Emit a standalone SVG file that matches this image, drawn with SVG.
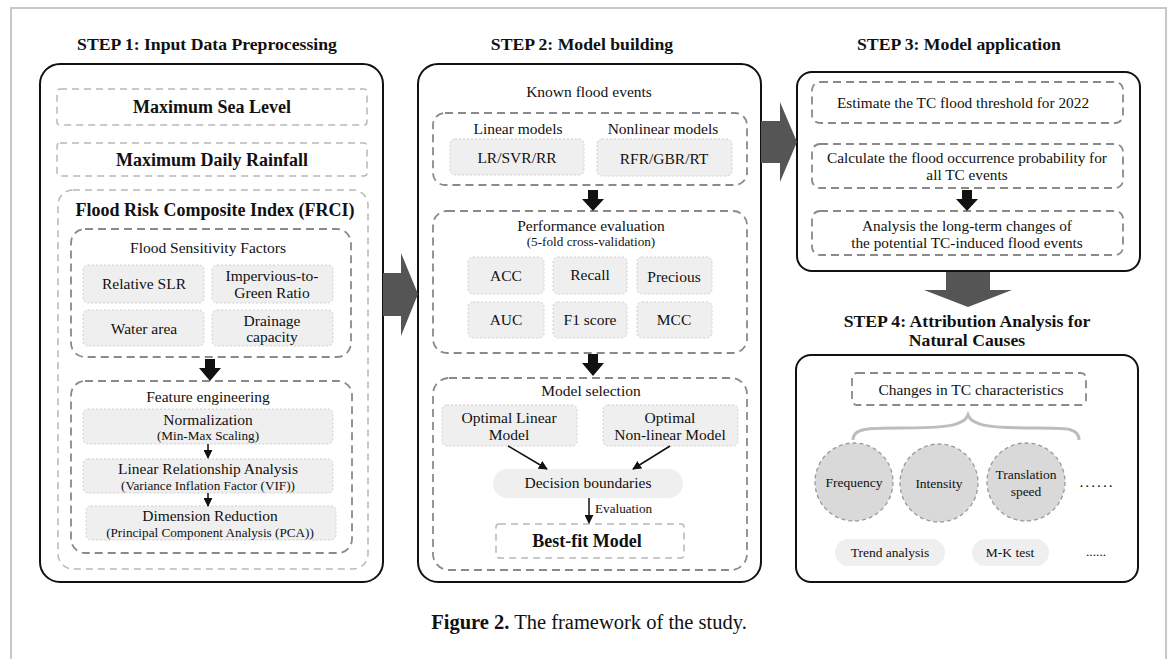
<svg xmlns="http://www.w3.org/2000/svg" width="1170" height="659" viewBox="0 0 1170 659">
<style>
text{font-family:"Liberation Serif","Times New Roman",serif;fill:#111;text-anchor:middle}
.h{font-weight:bold;font-size:17.7px}
.b18{font-weight:bold;font-size:18px}
.t15{font-size:15.5px}
.t14{font-size:15.3px}
.t13{font-size:13.5px}
.s12{font-size:13.2px}
.main{fill:#fff;stroke:#111;stroke-width:2}
.dl{fill:none;stroke:#b8b8b8;stroke-width:1.5;stroke-dasharray:7 5}
.dd{fill:none;stroke:#8a8a8a;stroke-width:1.8;stroke-dasharray:8 5}
.g{fill:#efefef;stroke:#cfcfcf;stroke-width:1;stroke-dasharray:2 2}
.big{fill:#555}
.blk{fill:#111}
.ln{stroke:#111;stroke-width:1.5;fill:none}
.circ{fill:#d9d9d9;stroke:#999;stroke-width:1.3;stroke-dasharray:4 3}
.pill{fill:#efefef}
</style>
<defs>
<marker id="ah" viewBox="0 0 10 10" refX="9" refY="5" markerWidth="6" markerHeight="6" orient="auto"><path d="M0,0 L10,5 L0,10 z" fill="#111"/></marker>
</defs>
<rect width="1170" height="659" fill="#fff"/>
<path d="M11,659 V8 H1166 V659" fill="none" stroke="#c8c8c8" stroke-width="2"/>

<g id="step1">
<text class="h" x="207" y="50">STEP 1: Input Data Preprocessing</text>
<rect class="main" x="40" y="64" width="343" height="518" rx="20"/>
<g id="sea"><rect class="dl" x="57" y="89" width="310" height="36" rx="3"/><text class="b18" x="212" y="113">Maximum Sea Level</text></g>
<g id="rain"><rect class="dl" x="57" y="143" width="310" height="33" rx="3"/><text class="b18" x="212" y="166">Maximum Daily Rainfall</text></g>
<g id="frci"><rect class="dl" x="58" y="190" width="310" height="379" rx="15"/><text x="215" y="216" style="font-weight:bold;font-size:18px">Flood Risk Composite Index (FRCI)</text></g>
<g id="fsf"><rect class="dd" x="71" y="229" width="280" height="128" rx="14"/><text class="t15" x="208" y="253">Flood Sensitivity Factors</text></g>
<g id="rslr"><rect class="g" x="83" y="265" width="121" height="38" rx="5"/><text class="t15" x="144" y="289">Relative SLR</text></g>
<g id="igr"><rect class="g" x="212" y="265" width="121" height="38" rx="5"/><text class="t15" x="272" y="281">Impervious-to-</text><text class="t15" x="272" y="298">Green Ratio</text></g>
<g id="water"><rect class="g" x="83" y="310" width="121" height="36" rx="5"/><text class="t15" x="144" y="334">Water area</text></g>
<g id="drain"><rect class="g" x="212" y="310" width="121" height="36" rx="5"/><text class="t15" x="272" y="326">Drainage</text><text class="t15" x="272" y="342">capacity</text></g>
<g id="fe"><rect class="dd" x="71" y="381" width="281" height="172" rx="14"/><text class="t15" x="208" y="402">Feature engineering</text></g>
<g id="norm"><rect class="g" x="83" y="409" width="250" height="35" rx="5"/><text class="t15" x="208" y="425">Normalization</text><text class="s12" x="208" y="440">(Min-Max Scaling)</text></g>
<g id="lra"><rect class="g" x="83" y="459" width="250" height="34" rx="5"/><text class="t15" x="208" y="474">Linear Relationship Analysis</text><text class="s12" x="208" y="490">(Variance Inflation Factor (VIF))</text></g>
<g id="dr"><rect class="g" x="86" y="506" width="250" height="34" rx="5"/><text class="t15" x="210" y="521">Dimension Reduction</text><text class="s12" x="210" y="537">(Principal Component Analysis (PCA))</text></g>
</g>

<g id="step2">
<text class="h" x="582" y="50">STEP 2: Model building</text>
<rect class="main" x="418" y="64" width="343" height="518" rx="20"/>
<text class="t15" x="589" y="97">Known flood events</text>
<g id="models"><rect class="dd" x="433" y="113" width="314" height="72" rx="12"/><text class="t15" x="518" y="134">Linear models</text><text class="t15" x="663" y="134">Nonlinear models</text></g>
<g id="lin"><rect class="g" x="450" y="139" width="134" height="36" rx="5"/><text class="t15" x="517" y="163">LR/SVR/RR</text></g>
<g id="nonlin"><rect class="g" x="597" y="139" width="135" height="37" rx="5"/><text class="t15" x="664" y="164">RFR/GBR/RT</text></g>
<g id="perf"><rect class="dd" x="433" y="211" width="314" height="142" rx="14"/><text class="t15" x="591" y="231">Performance evaluation</text><text class="s12" x="591" y="246">(5-fold cross-validation)</text></g>
<g id="acc"><rect class="g" x="468" y="257" width="76" height="37" rx="5"/><text class="t15" x="506" y="281">ACC</text></g>
<g id="recall"><rect class="g" x="553" y="257" width="74" height="37" rx="5"/><text class="t15" x="590" y="280">Recall</text></g>
<g id="prec"><rect class="g" x="637" y="257" width="75" height="37" rx="5"/><text class="t15" x="674" y="282">Precious</text></g>
<g id="auc"><rect class="g" x="468" y="302" width="76" height="36" rx="5"/><text class="t15" x="506" y="325">AUC</text></g>
<g id="f1"><rect class="g" x="553" y="302" width="74" height="36" rx="5"/><text class="t15" x="590" y="325">F1 score</text></g>
<g id="mcc"><rect class="g" x="637" y="302" width="75" height="36" rx="5"/><text class="t15" x="674" y="325">MCC</text></g>
<g id="sel"><rect class="dd" x="433" y="378" width="314" height="192" rx="16"/><text class="t15" x="591" y="396">Model selection</text></g>
<g id="olm"><rect class="g" x="442" y="405" width="135" height="41" rx="5"/><text class="t15" x="509" y="423">Optimal Linear</text><text class="t15" x="509" y="440">Model</text></g>
<g id="onm"><rect class="g" x="603" y="405" width="135" height="41" rx="5"/><text class="t15" x="670" y="423">Optimal</text><text class="t15" x="670" y="440">Non-linear Model</text></g>
<g id="db"><rect class="pill" x="493" y="469" width="190" height="29" rx="14.5"/><text class="t15" x="588" y="488">Decision boundaries</text></g>
<text class="s12" x="595" y="513" style="text-anchor:start">Evaluation</text>
<g id="best"><rect class="dl" x="496" y="524" width="188" height="34" rx="3"/><text class="b18" x="587" y="547">Best-fit Model</text></g>
</g>

<g id="step3">
<text class="h" x="959" y="50">STEP 3: Model application</text>
<rect class="main" x="797" y="72" width="343" height="199" rx="15"/>
<g id="est"><rect class="dd" x="812" y="82" width="311" height="41" rx="8"/><text class="t14" x="963" y="108">Estimate the TC flood threshold for 2022</text></g>
<g id="calc"><rect class="dd" x="812" y="144" width="311" height="44" rx="8"/><text class="t14" x="967" y="163">Calculate the flood occurrence probability for</text><text class="t14" x="967" y="180">all TC events</text></g>
<g id="ana"><rect class="dd" x="812" y="211" width="311" height="44" rx="8"/><text class="t14" x="967" y="231">Analysis the long-term changes of</text><text class="t14" x="967" y="248">the potential TC-induced flood events</text></g>
</g>

<g id="step4">
<text class="h" x="967" y="327">STEP 4: Attribution Analysis for</text>
<text class="h" x="967" y="346">Natural Causes</text>
<rect class="main" x="796" y="355" width="342" height="227" rx="15"/>
<g id="chg"><rect class="dd" x="852" y="373" width="234" height="32" rx="5"/><text class="t15" x="971" y="395">Changes in TC characteristics</text></g>
<g id="freq"><circle class="circ" cx="854" cy="482" r="39"/><text class="t13" x="854" y="487">Frequency</text></g>
<g id="inten"><circle class="circ" cx="939" cy="483" r="39"/><text class="t13" x="939" y="488">Intensity</text></g>
<g id="trans"><circle class="circ" cx="1026" cy="482" r="39"/><text class="t13" x="1026" y="479">Translation</text><text class="t13" x="1026" y="496">speed</text></g>
<text class="t15" x="1097" y="487" style="letter-spacing:2px">......</text>
<g id="trend"><rect class="pill" x="835" y="539" width="110" height="27" rx="13.5"/><text class="t13" x="890" y="557">Trend analysis</text></g>
<g id="mk"><rect class="pill" x="972" y="539" width="77" height="27" rx="13.5"/><text class="t13" x="1010" y="557">M-K test</text></g>
<text class="t13" x="1096" y="556">......</text>
</g>

<g id="connectors">
<path class="big" d="M383,273 H401 V253 L418,294 L401,336 V316 H383 z"/>
<path class="big" d="M761,121 H780 V102 L797,142 L780,182 V163 H761 z"/>
<path class="big" d="M946,272 H990 V290 H1012 L968,307 L924,290 H946 z"/>
<path class="blk" d="M205,359 H215 V368 H221 L210,381 L199,368 H205 z"/>
<path class="blk" d="M588,190 H598 V199 H604 L593,211 L582,199 H588 z"/>
<path class="blk" d="M588,354 H598 V363 H604 L593,376 L582,363 H588 z"/>
<path class="blk" d="M962,190 H972 V199 H978 L967,211 L956,199 H962 z"/>
<line class="ln" x1="208" y1="444" x2="208" y2="458" marker-end="url(#ah)"/>
<line class="ln" x1="208" y1="493" x2="208" y2="506" marker-end="url(#ah)"/>
<line class="ln" x1="508" y1="446" x2="547" y2="469" marker-end="url(#ah)"/>
<line class="ln" x1="670" y1="446" x2="633" y2="469" marker-end="url(#ah)"/>
<line class="ln" x1="589" y1="498" x2="589" y2="523" marker-end="url(#ah)"/>
<path d="M853,440 C853,428 868,428 900,428 C945,428 964,426 968,415 C972,426 991,428 1036,428 C1068,428 1079,428 1079,440" fill="none" stroke="#bdbdbd" stroke-width="3"/>
</g>

<text x="589" y="629" style="font-size:20.5px"><tspan style="font-weight:bold">Figure 2.</tspan> The framework of the study.</text>
</svg>
